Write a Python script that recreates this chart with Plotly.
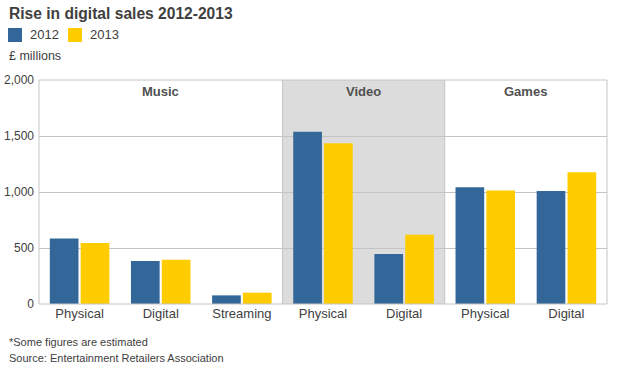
import plotly.graph_objects as go

categories = ["Physical", "Digital", "Streaming", "Physical", "Digital", "Physical", "Digital"]
groups = ["Music", "Video", "Games"]
group_spans = [(0, 2), (3, 4), (5, 6)]
series_names = ["2012", "2013"]
sales_2012 = [585, 383, 77, 1539, 446, 1043, 1010]
sales_2013 = [544, 395, 101, 1436, 618, 1013, 1177]
y_ticks = [0, 500, 1000, 1500, 2000]
y_tick_labels = ["0", "500", "1,000", "1,500", "2,000"]

BLUE = "#336699"
YELLOW = "#FFCC00"
GRID = "#c4c4c4"
DARK = "#404040"
FONT = "Liberation Sans, Arial, sans-serif"

W, H = 624, 369
L, R, T, B = 39, 17, 80, 65
PW, PH = W - L - R, H - T - B


def px(xpix):
    return (xpix - L) / PW


def py(ypix):
    return (H - B - ypix) / PH


x = list(range(len(categories)))

fig = go.Figure()
fig.add_trace(go.Bar(x=x, y=sales_2012, name=series_names[0], marker=dict(color=BLUE, line=dict(width=0))))
fig.add_trace(go.Bar(x=x, y=sales_2013, name=series_names[1], marker=dict(color=YELLOW, line=dict(width=0))))

shapes = []
vs, ve = group_spans[1]
shapes.append(dict(type="rect", xref="x", yref="paper", x0=vs - 0.5, x1=ve + 0.5, y0=0, y1=1,
                   fillcolor="#dcdcdc", line=dict(width=0), layer="below"))
for s, e in group_spans[:-1]:
    shapes.append(dict(type="line", xref="x", yref="paper", x0=e + 0.5, x1=e + 0.5, y0=0, y1=1,
                       line=dict(color=GRID, width=1), layer="below"))
shapes.append(dict(type="rect", xref="paper", yref="paper", x0=0, x1=1, y0=0, y1=1,
                   line=dict(color=GRID, width=1), layer="above"))

# manual legend
legend_items = [(series_names[0], BLUE, 8), (series_names[1], YELLOW, 68)]
annotations = []
for name, col, lx in legend_items:
    shapes.append(dict(type="rect", xref="paper", yref="paper", x0=px(lx), x1=px(lx + 14),
                       y0=py(42), y1=py(28), fillcolor=col, line=dict(width=0)))
    annotations.append(dict(x=px(lx + 20), y=py(35), xref="paper", yref="paper", xanchor="left",
                            yanchor="middle", text=name, showarrow=False,
                            font=dict(family=FONT, size=13, color=DARK)))

for g, (s, e) in zip(groups, group_spans):
    annotations.append(dict(x=(s + e) / 2, y=1, xref="x", yref="paper", yanchor="top", yshift=-2,
                            text=f"<b>{g}</b>", showarrow=False,
                            font=dict(family=FONT, size=13, color="#505050")))

annotations += [
    dict(x=px(7), y=py(14), xref="paper", yref="paper", xanchor="left", yanchor="middle",
         text="<b>Rise in digital sales 2012-2013</b>", showarrow=False,
         font=dict(family=FONT, size=15.6, color=DARK)),
    dict(x=px(7), y=py(56), xref="paper", yref="paper", xanchor="left", yanchor="middle",
         text="£ millions", showarrow=False, font=dict(family=FONT, size=12.5, color=DARK)),
    dict(x=px(7), y=py(342), xref="paper", yref="paper", xanchor="left", yanchor="middle",
         text="*Some figures are estimated", showarrow=False, font=dict(family=FONT, size=11, color=DARK)),
    dict(x=px(7), y=py(358), xref="paper", yref="paper", xanchor="left", yanchor="middle",
         text="Source: Entertainment Retailers Association", showarrow=False,
         font=dict(family=FONT, size=11, color=DARK)),
]

fig.update_layout(
    width=W, height=H,
    margin=dict(l=L, r=R, t=T, b=B, autoexpand=False),
    paper_bgcolor="white", plot_bgcolor="white",
    barmode="group", bargap=0.24, bargroupgap=0.07,
    font=dict(family=FONT, size=12, color=DARK),
    showlegend=False,
    shapes=shapes,
    annotations=annotations,
    xaxis=dict(range=[-0.5, len(categories) - 0.5], tickvals=x, ticktext=categories,
               showgrid=False, zeroline=False, showline=False, ticks="", automargin=False,
               tickfont=dict(family=FONT, size=13, color=DARK)),
    yaxis=dict(range=[0, 2000], tickvals=y_ticks, ticktext=y_tick_labels,
               showgrid=True, gridcolor=GRID, gridwidth=1, zeroline=False, showline=False,
               ticks="", ticklabelstandoff=4, automargin=False,
               tickfont=dict(family=FONT, size=12, color=DARK)),
)

fig.write_html("out.html", config={"displayModeBar": False},
               post_script="document.body.style.margin='0';")
